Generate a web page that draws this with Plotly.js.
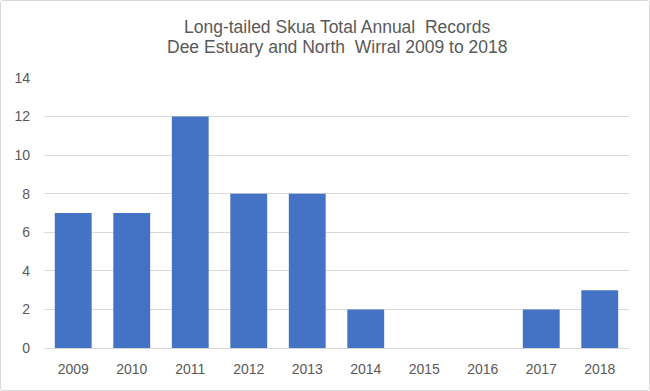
<!DOCTYPE html>
<html>
<head>
<meta charset="utf-8">
<script src="https://cdn.plot.ly/plotly-3.0.1.min.js"></script>
<style>
html,body{margin:0;padding:0;background:#fff;}
#chart{width:648px;height:389px;border:1px solid #d9d9d9;border-radius:3px;overflow:hidden;}
</style>
</head>
<body>
<div id="chart"></div>
<script>
const years = ["2009","2010","2011","2012","2013","2014","2015","2016","2017","2018"];
const records = [7, 7, 12, 8, 8, 2, 0, 0, 2, 3];
const yTicks = [0, 2, 4, 6, 8, 10, 12, 14];
const titleLines = ["Long-tailed Skua Total Annual  Records", "Dee Estuary and North  Wirral 2009 to 2018"];

const trace = {
  type: "bar",
  x: years,
  y: records,
  marker: {color: "#4472c4"},
  hoverinfo: "x+y"
};

const titleFont = {family: "Liberation Sans, Arial, sans-serif", size: 17.5, color: "#595959"};

const layout = {
  width: 648,
  height: 389,
  margin: {l: 43, r: 20, t: 77, b: 42},
  paper_bgcolor: "#ffffff",
  plot_bgcolor: "#ffffff",
  bargap: 0.37,
  showlegend: false,
  font: {family: "Liberation Sans, Arial, sans-serif", color: "#595959", size: 14},
  annotations: [
    {text: titleLines[0], xref: "paper", yref: "paper", x: 0.5, y: 1.19, xanchor: "center", yanchor: "middle", showarrow: false, font: titleFont},
    {text: titleLines[1], xref: "paper", yref: "paper", x: 0.5, y: 1.115, xanchor: "center", yanchor: "middle", showarrow: false, font: titleFont}
  ],
  xaxis: {
    type: "category",
    tickfont: {size: 14, color: "#595959"},
    showgrid: false,
    showline: true,
    linecolor: "#d9d9d9",
    ticks: "",
    ticklabelstandoff: 8,
    fixedrange: true
  },
  yaxis: {
    range: [0, 14],
    tickvals: yTicks,
    ticktext: yTicks.map(String),
    tickfont: {size: 14, color: "#595959"},
    gridcolor: "#d9d9d9",
    gridwidth: 1,
    zeroline: false,
    showline: false,
    ticks: "",
    ticklabelstandoff: 13,
    fixedrange: true
  }
};

Plotly.newPlot("chart", [trace], layout, {displayModeBar: false, staticPlot: true});
</script>
</body>
</html>
